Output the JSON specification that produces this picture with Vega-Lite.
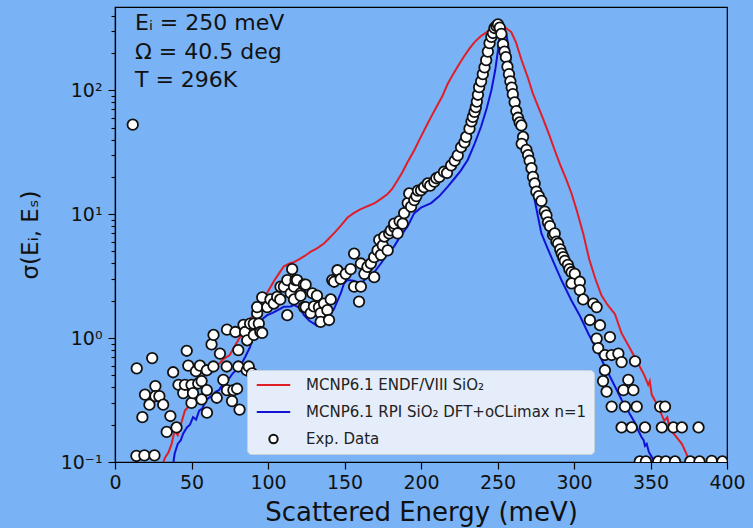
{
  "$schema": "https://vega.github.io/schema/vega-lite/v6.json",
  "width": 612,
  "height": 455,
  "autosize": {"type": "none"},
  "padding": {"left": 115, "top": 7, "right": 26, "bottom": 66},
  "background": "#79b3f5",
  "title": {
    "text": ["Eᵢ = 250 meV", "Ω = 40.5 deg", "T = 296K"],
    "anchor": "start", "frame": "group", "orient": "top",
    "offset": -85, "baseline": "top", "dx": 20,
    "fontSize": 22, "fontWeight": "normal", "lineHeight": 28.5,
    "font": "DejaVu Sans", "color": "#111111"
  },
  "config": {
    "font": "DejaVu Sans",
    "view": {"stroke": "black", "strokeWidth": 1.2},
    "legend": {
      "orient": "none",
      "legendX": 132,
      "legendY": 363,
      "fillColor": "#e4edf9",
      "strokeColor": "#c8d0da",
      "cornerRadius": 4,
      "padding": 7,
      "labelFont": "DejaVu Sans",
      "labelFontSize": 15,
      "labelColor": "#222222",
      "labelLimit": 500,
      "labelOffset": 25,
      "symbolSize": 70,
      "symbolOffset": 12,
      "symbolStrokeWidth": 2,
      "clipHeight": 16,
      "rowPadding": 11
    }
  },
  "datasets": {
    "lines": [
      {"E":31.5,"v":0.1,"series":"MCNP6.1 ENDF/VIII SiO₂"},{"E":33,"v":0.11,"series":"MCNP6.1 ENDF/VIII SiO₂"},{"E":35,"v":0.12,"series":"MCNP6.1 ENDF/VIII SiO₂"},{"E":37,"v":0.14,"series":"MCNP6.1 ENDF/VIII SiO₂"},{"E":39,"v":0.18,"series":"MCNP6.1 ENDF/VIII SiO₂"},{"E":41,"v":0.165,"series":"MCNP6.1 ENDF/VIII SiO₂"},{"E":42.5,"v":0.19,"series":"MCNP6.1 ENDF/VIII SiO₂"},{"E":45.7,"v":0.26,"series":"MCNP6.1 ENDF/VIII SiO₂"},{"E":48,"v":0.28,"series":"MCNP6.1 ENDF/VIII SiO₂"},{"E":51,"v":0.34,"series":"MCNP6.1 ENDF/VIII SiO₂"},{"E":54,"v":0.4,"series":"MCNP6.1 ENDF/VIII SiO₂"},{"E":57.7,"v":0.49,"series":"MCNP6.1 ENDF/VIII SiO₂"},{"E":61,"v":0.57,"series":"MCNP6.1 ENDF/VIII SiO₂"},{"E":63,"v":0.62,"series":"MCNP6.1 ENDF/VIII SiO₂"},{"E":65,"v":0.58,"series":"MCNP6.1 ENDF/VIII SiO₂"},{"E":68,"v":0.62,"series":"MCNP6.1 ENDF/VIII SiO₂"},{"E":71,"v":0.68,"series":"MCNP6.1 ENDF/VIII SiO₂"},{"E":75,"v":0.73,"series":"MCNP6.1 ENDF/VIII SiO₂"},{"E":78,"v":0.85,"series":"MCNP6.1 ENDF/VIII SiO₂"},{"E":81.7,"v":1.02,"series":"MCNP6.1 ENDF/VIII SiO₂"},{"E":85,"v":1.2,"series":"MCNP6.1 ENDF/VIII SiO₂"},{"E":88,"v":1.4,"series":"MCNP6.1 ENDF/VIII SiO₂"},{"E":92,"v":1.65,"series":"MCNP6.1 ENDF/VIII SiO₂"},{"E":95,"v":1.9,"series":"MCNP6.1 ENDF/VIII SiO₂"},{"E":98,"v":2.16,"series":"MCNP6.1 ENDF/VIII SiO₂"},{"E":101,"v":2.5,"series":"MCNP6.1 ENDF/VIII SiO₂"},{"E":104,"v":2.9,"series":"MCNP6.1 ENDF/VIII SiO₂"},{"E":107,"v":3.3,"series":"MCNP6.1 ENDF/VIII SiO₂"},{"E":110.4,"v":3.8,"series":"MCNP6.1 ENDF/VIII SiO₂"},{"E":114,"v":4.0,"series":"MCNP6.1 ENDF/VIII SiO₂"},{"E":117,"v":4.1,"series":"MCNP6.1 ENDF/VIII SiO₂"},{"E":120,"v":4.3,"series":"MCNP6.1 ENDF/VIII SiO₂"},{"E":124,"v":4.6,"series":"MCNP6.1 ENDF/VIII SiO₂"},{"E":128,"v":5.0,"series":"MCNP6.1 ENDF/VIII SiO₂"},{"E":132,"v":5.3,"series":"MCNP6.1 ENDF/VIII SiO₂"},{"E":136.6,"v":5.8,"series":"MCNP6.1 ENDF/VIII SiO₂"},{"E":140,"v":6.4,"series":"MCNP6.1 ENDF/VIII SiO₂"},{"E":144,"v":7.2,"series":"MCNP6.1 ENDF/VIII SiO₂"},{"E":148,"v":8.2,"series":"MCNP6.1 ENDF/VIII SiO₂"},{"E":152,"v":9.4,"series":"MCNP6.1 ENDF/VIII SiO₂"},{"E":156,"v":10.2,"series":"MCNP6.1 ENDF/VIII SiO₂"},{"E":160,"v":10.9,"series":"MCNP6.1 ENDF/VIII SiO₂"},{"E":165,"v":11.6,"series":"MCNP6.1 ENDF/VIII SiO₂"},{"E":169.4,"v":12.2,"series":"MCNP6.1 ENDF/VIII SiO₂"},{"E":173.8,"v":13.3,"series":"MCNP6.1 ENDF/VIII SiO₂"},{"E":178,"v":14.5,"series":"MCNP6.1 ENDF/VIII SiO₂"},{"E":181,"v":15.9,"series":"MCNP6.1 ENDF/VIII SiO₂"},{"E":184.7,"v":18.8,"series":"MCNP6.1 ENDF/VIII SiO₂"},{"E":188,"v":22,"series":"MCNP6.1 ENDF/VIII SiO₂"},{"E":191,"v":26,"series":"MCNP6.1 ENDF/VIII SiO₂"},{"E":195.6,"v":32.8,"series":"MCNP6.1 ENDF/VIII SiO₂"},{"E":199,"v":40,"series":"MCNP6.1 ENDF/VIII SiO₂"},{"E":203,"v":50,"series":"MCNP6.1 ENDF/VIII SiO₂"},{"E":206.6,"v":61,"series":"MCNP6.1 ENDF/VIII SiO₂"},{"E":210,"v":73,"series":"MCNP6.1 ENDF/VIII SiO₂"},{"E":214,"v":90,"series":"MCNP6.1 ENDF/VIII SiO₂"},{"E":217.5,"v":113,"series":"MCNP6.1 ENDF/VIII SiO₂"},{"E":221,"v":135,"series":"MCNP6.1 ENDF/VIII SiO₂"},{"E":225,"v":163,"series":"MCNP6.1 ENDF/VIII SiO₂"},{"E":228.4,"v":190,"series":"MCNP6.1 ENDF/VIII SiO₂"},{"E":232,"v":220,"series":"MCNP6.1 ENDF/VIII SiO₂"},{"E":235,"v":245,"series":"MCNP6.1 ENDF/VIII SiO₂"},{"E":239,"v":273,"series":"MCNP6.1 ENDF/VIII SiO₂"},{"E":243,"v":295,"series":"MCNP6.1 ENDF/VIII SiO₂"},{"E":246,"v":310,"series":"MCNP6.1 ENDF/VIII SiO₂"},{"E":248,"v":318,"series":"MCNP6.1 ENDF/VIII SiO₂"},{"E":250.3,"v":328,"series":"MCNP6.1 ENDF/VIII SiO₂"},{"E":252,"v":335,"series":"MCNP6.1 ENDF/VIII SiO₂"},{"E":255,"v":320,"series":"MCNP6.1 ENDF/VIII SiO₂"},{"E":257,"v":308,"series":"MCNP6.1 ENDF/VIII SiO₂"},{"E":259,"v":295,"series":"MCNP6.1 ENDF/VIII SiO₂"},{"E":262,"v":245,"series":"MCNP6.1 ENDF/VIII SiO₂"},{"E":265.6,"v":177,"series":"MCNP6.1 ENDF/VIII SiO₂"},{"E":270,"v":125,"series":"MCNP6.1 ENDF/VIII SiO₂"},{"E":273,"v":95,"series":"MCNP6.1 ENDF/VIII SiO₂"},{"E":276.5,"v":74,"series":"MCNP6.1 ENDF/VIII SiO₂"},{"E":280,"v":58,"series":"MCNP6.1 ENDF/VIII SiO₂"},{"E":284,"v":43,"series":"MCNP6.1 ENDF/VIII SiO₂"},{"E":287.4,"v":32.8,"series":"MCNP6.1 ENDF/VIII SiO₂"},{"E":291,"v":25,"series":"MCNP6.1 ENDF/VIII SiO₂"},{"E":295,"v":19,"series":"MCNP6.1 ENDF/VIII SiO₂"},{"E":298.4,"v":14.7,"series":"MCNP6.1 ENDF/VIII SiO₂"},{"E":302,"v":10.5,"series":"MCNP6.1 ENDF/VIII SiO₂"},{"E":306,"v":7.0,"series":"MCNP6.1 ENDF/VIII SiO₂"},{"E":310,"v":4.3,"series":"MCNP6.1 ENDF/VIII SiO₂"},{"E":314,"v":3.0,"series":"MCNP6.1 ENDF/VIII SiO₂"},{"E":318,"v":2.2,"series":"MCNP6.1 ENDF/VIII SiO₂"},{"E":322,"v":1.85,"series":"MCNP6.1 ENDF/VIII SiO₂"},{"E":326.8,"v":1.56,"series":"MCNP6.1 ENDF/VIII SiO₂"},{"E":331,"v":1.1,"series":"MCNP6.1 ENDF/VIII SiO₂"},{"E":336,"v":0.85,"series":"MCNP6.1 ENDF/VIII SiO₂"},{"E":342,"v":0.62,"series":"MCNP6.1 ENDF/VIII SiO₂"},{"E":346,"v":0.5,"series":"MCNP6.1 ENDF/VIII SiO₂"},{"E":348.5,"v":0.42,"series":"MCNP6.1 ENDF/VIII SiO₂"},{"E":349.5,"v":0.45,"series":"MCNP6.1 ENDF/VIII SiO₂"},{"E":350.8,"v":0.35,"series":"MCNP6.1 ENDF/VIII SiO₂"},{"E":355,"v":0.28,"series":"MCNP6.1 ENDF/VIII SiO₂"},{"E":359,"v":0.215,"series":"MCNP6.1 ENDF/VIII SiO₂"},{"E":361,"v":0.23,"series":"MCNP6.1 ENDF/VIII SiO₂"},{"E":362,"v":0.2,"series":"MCNP6.1 ENDF/VIII SiO₂"},{"E":365,"v":0.17,"series":"MCNP6.1 ENDF/VIII SiO₂"},{"E":370.5,"v":0.14,"series":"MCNP6.1 ENDF/VIII SiO₂"},{"E":373,"v":0.12,"series":"MCNP6.1 ENDF/VIII SiO₂"},{"E":375.7,"v":0.1,"series":"MCNP6.1 ENDF/VIII SiO₂"},{"E":377,"v":0.09,"series":"MCNP6.1 ENDF/VIII SiO₂"},
      {"E":38.2,"v":0.1,"series":"MCNP6.1 RPI SiO₂ DFT+oCLimax n=1"},{"E":39,"v":0.117,"series":"MCNP6.1 RPI SiO₂ DFT+oCLimax n=1"},{"E":41,"v":0.14,"series":"MCNP6.1 RPI SiO₂ DFT+oCLimax n=1"},{"E":43,"v":0.15,"series":"MCNP6.1 RPI SiO₂ DFT+oCLimax n=1"},{"E":44.6,"v":0.17,"series":"MCNP6.1 RPI SiO₂ DFT+oCLimax n=1"},{"E":47,"v":0.19,"series":"MCNP6.1 RPI SiO₂ DFT+oCLimax n=1"},{"E":49,"v":0.2,"series":"MCNP6.1 RPI SiO₂ DFT+oCLimax n=1"},{"E":51,"v":0.23,"series":"MCNP6.1 RPI SiO₂ DFT+oCLimax n=1"},{"E":53,"v":0.22,"series":"MCNP6.1 RPI SiO₂ DFT+oCLimax n=1"},{"E":55,"v":0.26,"series":"MCNP6.1 RPI SiO₂ DFT+oCLimax n=1"},{"E":57,"v":0.27,"series":"MCNP6.1 RPI SiO₂ DFT+oCLimax n=1"},{"E":60,"v":0.32,"series":"MCNP6.1 RPI SiO₂ DFT+oCLimax n=1"},{"E":63,"v":0.34,"series":"MCNP6.1 RPI SiO₂ DFT+oCLimax n=1"},{"E":66,"v":0.37,"series":"MCNP6.1 RPI SiO₂ DFT+oCLimax n=1"},{"E":68,"v":0.38,"series":"MCNP6.1 RPI SiO₂ DFT+oCLimax n=1"},{"E":70.8,"v":0.43,"series":"MCNP6.1 RPI SiO₂ DFT+oCLimax n=1"},{"E":74,"v":0.46,"series":"MCNP6.1 RPI SiO₂ DFT+oCLimax n=1"},{"E":77,"v":0.52,"series":"MCNP6.1 RPI SiO₂ DFT+oCLimax n=1"},{"E":81.7,"v":0.59,"series":"MCNP6.1 RPI SiO₂ DFT+oCLimax n=1"},{"E":85,"v":0.7,"series":"MCNP6.1 RPI SiO₂ DFT+oCLimax n=1"},{"E":88.3,"v":0.85,"series":"MCNP6.1 RPI SiO₂ DFT+oCLimax n=1"},{"E":90.7,"v":1.09,"series":"MCNP6.1 RPI SiO₂ DFT+oCLimax n=1"},{"E":94,"v":1.3,"series":"MCNP6.1 RPI SiO₂ DFT+oCLimax n=1"},{"E":97,"v":1.45,"series":"MCNP6.1 RPI SiO₂ DFT+oCLimax n=1"},{"E":99.5,"v":1.53,"series":"MCNP6.1 RPI SiO₂ DFT+oCLimax n=1"},{"E":103,"v":1.6,"series":"MCNP6.1 RPI SiO₂ DFT+oCLimax n=1"},{"E":107,"v":1.7,"series":"MCNP6.1 RPI SiO₂ DFT+oCLimax n=1"},{"E":110.4,"v":1.79,"series":"MCNP6.1 RPI SiO₂ DFT+oCLimax n=1"},{"E":114.8,"v":1.8,"series":"MCNP6.1 RPI SiO₂ DFT+oCLimax n=1"},{"E":117,"v":1.85,"series":"MCNP6.1 RPI SiO₂ DFT+oCLimax n=1"},{"E":121,"v":1.75,"series":"MCNP6.1 RPI SiO₂ DFT+oCLimax n=1"},{"E":123.5,"v":1.53,"series":"MCNP6.1 RPI SiO₂ DFT+oCLimax n=1"},{"E":127,"v":1.38,"series":"MCNP6.1 RPI SiO₂ DFT+oCLimax n=1"},{"E":130,"v":1.31,"series":"MCNP6.1 RPI SiO₂ DFT+oCLimax n=1"},{"E":132,"v":1.26,"series":"MCNP6.1 RPI SiO₂ DFT+oCLimax n=1"},{"E":134.4,"v":1.27,"series":"MCNP6.1 RPI SiO₂ DFT+oCLimax n=1"},{"E":136,"v":1.3,"series":"MCNP6.1 RPI SiO₂ DFT+oCLimax n=1"},{"E":138.8,"v":1.4,"series":"MCNP6.1 RPI SiO₂ DFT+oCLimax n=1"},{"E":141,"v":1.6,"series":"MCNP6.1 RPI SiO₂ DFT+oCLimax n=1"},{"E":143,"v":1.7,"series":"MCNP6.1 RPI SiO₂ DFT+oCLimax n=1"},{"E":147.5,"v":2.29,"series":"MCNP6.1 RPI SiO₂ DFT+oCLimax n=1"},{"E":149.7,"v":2.76,"series":"MCNP6.1 RPI SiO₂ DFT+oCLimax n=1"},{"E":152,"v":2.94,"series":"MCNP6.1 RPI SiO₂ DFT+oCLimax n=1"},{"E":156,"v":2.9,"series":"MCNP6.1 RPI SiO₂ DFT+oCLimax n=1"},{"E":160.7,"v":2.76,"series":"MCNP6.1 RPI SiO₂ DFT+oCLimax n=1"},{"E":165,"v":3.1,"series":"MCNP6.1 RPI SiO₂ DFT+oCLimax n=1"},{"E":169.4,"v":3.4,"series":"MCNP6.1 RPI SiO₂ DFT+oCLimax n=1"},{"E":173.8,"v":4.0,"series":"MCNP6.1 RPI SiO₂ DFT+oCLimax n=1"},{"E":178,"v":4.8,"series":"MCNP6.1 RPI SiO₂ DFT+oCLimax n=1"},{"E":182.5,"v":5.5,"series":"MCNP6.1 RPI SiO₂ DFT+oCLimax n=1"},{"E":186,"v":6.5,"series":"MCNP6.1 RPI SiO₂ DFT+oCLimax n=1"},{"E":191.3,"v":8.0,"series":"MCNP6.1 RPI SiO₂ DFT+oCLimax n=1"},{"E":195.6,"v":10.2,"series":"MCNP6.1 RPI SiO₂ DFT+oCLimax n=1"},{"E":200,"v":11.3,"series":"MCNP6.1 RPI SiO₂ DFT+oCLimax n=1"},{"E":206.6,"v":12.3,"series":"MCNP6.1 RPI SiO₂ DFT+oCLimax n=1"},{"E":212,"v":14,"series":"MCNP6.1 RPI SiO₂ DFT+oCLimax n=1"},{"E":217.5,"v":16.7,"series":"MCNP6.1 RPI SiO₂ DFT+oCLimax n=1"},{"E":222,"v":19.5,"series":"MCNP6.1 RPI SiO₂ DFT+oCLimax n=1"},{"E":226,"v":22.5,"series":"MCNP6.1 RPI SiO₂ DFT+oCLimax n=1"},{"E":230.6,"v":27.5,"series":"MCNP6.1 RPI SiO₂ DFT+oCLimax n=1"},{"E":235,"v":37,"series":"MCNP6.1 RPI SiO₂ DFT+oCLimax n=1"},{"E":239.3,"v":51,"series":"MCNP6.1 RPI SiO₂ DFT+oCLimax n=1"},{"E":243,"v":72,"series":"MCNP6.1 RPI SiO₂ DFT+oCLimax n=1"},{"E":246,"v":100,"series":"MCNP6.1 RPI SiO₂ DFT+oCLimax n=1"},{"E":248.5,"v":145,"series":"MCNP6.1 RPI SiO₂ DFT+oCLimax n=1"},{"E":250.3,"v":210,"series":"MCNP6.1 RPI SiO₂ DFT+oCLimax n=1"},{"E":251.5,"v":270,"series":"MCNP6.1 RPI SiO₂ DFT+oCLimax n=1"},{"E":252.5,"v":328,"series":"MCNP6.1 RPI SiO₂ DFT+oCLimax n=1"},{"E":254,"v":315,"series":"MCNP6.1 RPI SiO₂ DFT+oCLimax n=1"},{"E":255.7,"v":290,"series":"MCNP6.1 RPI SiO₂ DFT+oCLimax n=1"},{"E":257.5,"v":210,"series":"MCNP6.1 RPI SiO₂ DFT+oCLimax n=1"},{"E":259,"v":155,"series":"MCNP6.1 RPI SiO₂ DFT+oCLimax n=1"},{"E":261,"v":115,"series":"MCNP6.1 RPI SiO₂ DFT+oCLimax n=1"},{"E":263.4,"v":83,"series":"MCNP6.1 RPI SiO₂ DFT+oCLimax n=1"},{"E":265.5,"v":52,"series":"MCNP6.1 RPI SiO₂ DFT+oCLimax n=1"},{"E":267.7,"v":32.8,"series":"MCNP6.1 RPI SiO₂ DFT+oCLimax n=1"},{"E":270,"v":23,"series":"MCNP6.1 RPI SiO₂ DFT+oCLimax n=1"},{"E":272,"v":17,"series":"MCNP6.1 RPI SiO₂ DFT+oCLimax n=1"},{"E":274.3,"v":13,"series":"MCNP6.1 RPI SiO₂ DFT+oCLimax n=1"},{"E":276.5,"v":9.5,"series":"MCNP6.1 RPI SiO₂ DFT+oCLimax n=1"},{"E":278.7,"v":7,"series":"MCNP6.1 RPI SiO₂ DFT+oCLimax n=1"},{"E":283,"v":5.2,"series":"MCNP6.1 RPI SiO₂ DFT+oCLimax n=1"},{"E":287.4,"v":3.9,"series":"MCNP6.1 RPI SiO₂ DFT+oCLimax n=1"},{"E":292,"v":2.9,"series":"MCNP6.1 RPI SiO₂ DFT+oCLimax n=1"},{"E":298.4,"v":2.0,"series":"MCNP6.1 RPI SiO₂ DFT+oCLimax n=1"},{"E":304,"v":1.5,"series":"MCNP6.1 RPI SiO₂ DFT+oCLimax n=1"},{"E":309.3,"v":1.09,"series":"MCNP6.1 RPI SiO₂ DFT+oCLimax n=1"},{"E":315,"v":0.8,"series":"MCNP6.1 RPI SiO₂ DFT+oCLimax n=1"},{"E":320.2,"v":0.59,"series":"MCNP6.1 RPI SiO₂ DFT+oCLimax n=1"},{"E":325,"v":0.45,"series":"MCNP6.1 RPI SiO₂ DFT+oCLimax n=1"},{"E":331,"v":0.32,"series":"MCNP6.1 RPI SiO₂ DFT+oCLimax n=1"},{"E":336,"v":0.25,"series":"MCNP6.1 RPI SiO₂ DFT+oCLimax n=1"},{"E":339.5,"v":0.21,"series":"MCNP6.1 RPI SiO₂ DFT+oCLimax n=1"},{"E":342,"v":0.18,"series":"MCNP6.1 RPI SiO₂ DFT+oCLimax n=1"},{"E":344,"v":0.16,"series":"MCNP6.1 RPI SiO₂ DFT+oCLimax n=1"},{"E":345.5,"v":0.15,"series":"MCNP6.1 RPI SiO₂ DFT+oCLimax n=1"},{"E":346.4,"v":0.135,"series":"MCNP6.1 RPI SiO₂ DFT+oCLimax n=1"},{"E":347.5,"v":0.14,"series":"MCNP6.1 RPI SiO₂ DFT+oCLimax n=1"},{"E":349,"v":0.12,"series":"MCNP6.1 RPI SiO₂ DFT+oCLimax n=1"},{"E":350.8,"v":0.11,"series":"MCNP6.1 RPI SiO₂ DFT+oCLimax n=1"},{"E":353,"v":0.1,"series":"MCNP6.1 RPI SiO₂ DFT+oCLimax n=1"},{"E":354,"v":0.095,"series":"MCNP6.1 RPI SiO₂ DFT+oCLimax n=1"}
    ],
    "exp": [
      {"E":11.6,"v":52.8},{"E":14.2,"v":0.57},{"E":14,"v":0.112},{"E":19.2,"v":0.113},{"E":25.8,"v":0.113},{"E":17.9,"v":0.23},{"E":19.6,"v":0.35},{"E":22.5,"v":0.29},{"E":24.3,"v":0.69},{"E":26.4,"v":0.41},{"E":26.4,"v":0.34},{"E":29,"v":0.34},{"E":31.5,"v":0.29},{"E":33.8,"v":0.175},{"E":36.2,"v":0.235},{"E":38,"v":0.53},{"E":40.2,"v":0.19},{"E":41.5,"v":0.42},{"E":44.6,"v":0.36},{"E":45.7,"v":0.42},{"E":46.9,"v":0.79},{"E":47.9,"v":0.6},{"E":50,"v":0.42},{"E":50,"v":0.3},{"E":51,"v":0.36},{"E":52.9,"v":0.54},{"E":54.4,"v":0.43},{"E":55.5,"v":0.6},{"E":56.6,"v":0.45},{"E":56.6,"v":0.32},{"E":60,"v":0.55},{"E":60,"v":0.38},{"E":60.1,"v":0.25},{"E":63.1,"v":0.89},{"E":64.4,"v":1.06},{"E":64.3,"v":0.59},{"E":66.5,"v":0.33},{"E":68.6,"v":0.75},{"E":70.8,"v":0.46},{"E":73,"v":0.59},{"E":73.2,"v":1.17},{"E":73.2,"v":0.38},{"E":76.5,"v":0.31},{"E":77.4,"v":0.38},{"E":78.7,"v":1.12},{"E":79.8,"v":0.39},{"E":80.6,"v":0.8},{"E":80.6,"v":0.59},{"E":81.4,"v":0.265},{"E":84,"v":1.28},{"E":85,"v":1.12},{"E":86.1,"v":0.55},{"E":86.4,"v":0.96},{"E":87.4,"v":0.59},{"E":88.3,"v":1.31},{"E":89.6,"v":0.52},{"E":90.7,"v":1.06},{"E":90.7,"v":1.31},{"E":92.9,"v":1.59},{"E":92.9,"v":1.78},{"E":94,"v":1.31},{"E":95,"v":1.12},{"E":96.2,"v":2.13},{"E":96.2,"v":1.1},{"E":99.5,"v":1.78},{"E":101.6,"v":2.05},{"E":103.8,"v":1.9},{"E":106,"v":2.15},{"E":108,"v":2.05},{"E":108.2,"v":2.6},{"E":110.4,"v":2.6},{"E":112.6,"v":2.94},{"E":112.6,"v":1.53},{"E":114.8,"v":2.3},{"E":115.8,"v":3.6},{"E":117,"v":2.6},{"E":117,"v":2.05},{"E":118,"v":2.94},{"E":119,"v":2.94},{"E":121.3,"v":2.3},{"E":121.3,"v":2.2},{"E":123.5,"v":2.7},{"E":123.5,"v":1.78},{"E":124.6,"v":1.78},{"E":124.6,"v":2.7},{"E":127.9,"v":1.59},{"E":129,"v":2.3},{"E":130,"v":1.8},{"E":132,"v":2.2},{"E":133.3,"v":1.78},{"E":134.4,"v":1.59},{"E":134.4,"v":1.35},{"E":136.6,"v":1.9},{"E":138.8,"v":1.68},{"E":139.9,"v":1.4},{"E":141,"v":2.05},{"E":142,"v":2.94},{"E":143.2,"v":2.85},{"E":145.4,"v":3.53},{"E":147.5,"v":3.0},{"E":150.8,"v":3.3},{"E":154,"v":3.6},{"E":156.3,"v":4.8},{"E":156.3,"v":2.6},{"E":159.5,"v":1.97},{"E":160.7,"v":4.0},{"E":160.7,"v":2.6},{"E":163,"v":3.3},{"E":165,"v":3.76},{"E":167.2,"v":4.0},{"E":169.4,"v":4.5},{"E":169.4,"v":3.1},{"E":171.6,"v":5.1},{"E":172.7,"v":6.2},{"E":173.8,"v":4.7},{"E":175,"v":5.6},{"E":176,"v":6.6},{"E":178.2,"v":5.1},{"E":179.2,"v":7.0},{"E":180.3,"v":7.4},{"E":182.5,"v":7.9},{"E":182.5,"v":8.4},{"E":184.7,"v":7.0},{"E":186,"v":8.8},{"E":188,"v":8.4},{"E":189,"v":10.2},{"E":191.3,"v":12.3},{"E":192.3,"v":14.7},{"E":193.5,"v":11.5},{"E":195.6,"v":13},{"E":197,"v":14},{"E":198,"v":15.5},{"E":200,"v":15.6},{"E":202,"v":16.5},{"E":204.4,"v":17.7},{"E":206,"v":17},{"E":208.7,"v":18.3},{"E":210,"v":19.5},{"E":212,"v":20},{"E":215,"v":22},{"E":217,"v":21.5},{"E":219.7,"v":24.8},{"E":222,"v":27},{"E":224,"v":29.8},{"E":226.2,"v":34.7},{"E":228.4,"v":38},{"E":229.5,"v":42},{"E":231.7,"v":49},{"E":233,"v":56},{"E":233.9,"v":61},{"E":235,"v":67},{"E":235.8,"v":73},{"E":236.5,"v":81},{"E":237.2,"v":92},{"E":238,"v":106},{"E":239.3,"v":118},{"E":240.4,"v":135},{"E":241.5,"v":153},{"E":242.6,"v":175},{"E":243.7,"v":205},{"E":244.8,"v":240},{"E":246,"v":270},{"E":247,"v":290},{"E":248,"v":318},{"E":249.2,"v":330},{"E":250.3,"v":340},{"E":251.5,"v":320},{"E":252.5,"v":285},{"E":253.6,"v":235},{"E":254.6,"v":205},{"E":255.5,"v":185},{"E":256.5,"v":155},{"E":257.5,"v":135},{"E":258.4,"v":118},{"E":259.3,"v":105},{"E":260,"v":93},{"E":261.2,"v":80},{"E":262.3,"v":68},{"E":263.4,"v":60},{"E":264.5,"v":55},{"E":265.6,"v":52},{"E":266.7,"v":42},{"E":265.8,"v":37},{"E":268.9,"v":33},{"E":270,"v":30},{"E":271,"v":27},{"E":272.2,"v":23.5},{"E":273.2,"v":20},{"E":274.3,"v":17.7},{"E":275.4,"v":15.2},{"E":277,"v":14},{"E":278.7,"v":12.8},{"E":280.9,"v":10.5},{"E":282,"v":9.8},{"E":283,"v":8.6},{"E":284.3,"v":8.0},{"E":286.3,"v":6.8},{"E":287.4,"v":7.0},{"E":288.5,"v":6.0},{"E":289.6,"v":5.8},{"E":291,"v":5.2},{"E":292,"v":4.8},{"E":293,"v":4.5},{"E":294,"v":4.2},{"E":296,"v":3.9},{"E":297,"v":3.6},{"E":298.4,"v":3.4},{"E":300.5,"v":3.3},{"E":298.4,"v":2.76},{"E":303.8,"v":2.85},{"E":303.8,"v":2.44},{"E":306,"v":2.05},{"E":310.4,"v":1.4},{"E":312.6,"v":1.9},{"E":314.8,"v":1.78},{"E":317,"v":1.27},{"E":314.8,"v":0.99},{"E":323.5,"v":1.02},{"E":315.8,"v":0.83},{"E":320.2,"v":0.73},{"E":324.6,"v":0.73},{"E":329,"v":0.75},{"E":331.1,"v":0.64},{"E":339.9,"v":0.65},{"E":320.2,"v":0.55},{"E":319,"v":0.45},{"E":321.3,"v":0.37},{"E":335.5,"v":0.46},{"E":332.3,"v":0.38},{"E":338.8,"v":0.38},{"E":324.6,"v":0.28},{"E":333.3,"v":0.28},{"E":341,"v":0.28},{"E":356.3,"v":0.28},{"E":359.5,"v":0.28},{"E":331.1,"v":0.19},{"E":337.7,"v":0.19},{"E":346.4,"v":0.19},{"E":357.4,"v":0.19},{"E":365,"v":0.19},{"E":370.5,"v":0.19},{"E":381.4,"v":0.19},{"E":343,"v":0.101},{"E":347,"v":0.101},{"E":355,"v":0.101},{"E":360,"v":0.101},{"E":366,"v":0.101},{"E":376,"v":0.101},{"E":382,"v":0.101},{"E":390,"v":0.102},{"E":397,"v":0.101}
    ]
  },
  "encoding": {
    "x": {
      "field": "E", "type": "quantitative",
      "scale": {"domain": [0, 400], "nice": false, "zero": false},
      "axis": {
        "title": "Scattered Energy (meV)",
        "values": [0, 50, 100, 150, 200, 250, 300, 350, 400],
        "grid": false, "domainColor": "black", "domainWidth": 1.2,
        "tickColor": "black", "tickSize": 7, "tickWidth": 1.2,
        "labelFontSize": 19, "labelColor": "#111111", "labelPadding": 4, "labelFlush": false,
        "titleFontSize": 26, "titleFontWeight": "normal", "titleColor": "#111111", "titlePadding": 7
      }
    },
    "y": {
      "field": "v", "type": "quantitative",
      "scale": {"type": "log", "domain": [0.1, 470], "nice": false},
      "axis": {
        "title": "σ(Eᵢ, Eₛ)",
        "values": [0.1,0.2,0.3,0.4,0.5,0.6,0.7,0.8,0.9,1,2,3,4,5,6,7,8,9,10,20,30,40,50,60,70,80,90,100,200,300,400],
        "labelExpr": "datum.value == 0.1 ? '10⁻¹' : datum.value == 1 ? '10⁰' : datum.value == 10 ? '10¹' : datum.value == 100 ? '10²' : ''",
        "grid": false, "domainColor": "black", "domainWidth": 1.2,
        "tickColor": "black", "tickWidth": 1.1,
        "tickSize": {"condition": {"test": "datum.value == 0.1 || datum.value == 1 || datum.value == 10 || datum.value == 100", "value": 7}, "value": 4},
        "labelFontSize": 19, "labelColor": "#111111", "labelPadding": 6, "labelFlush": false,
        "titleFontSize": 23, "titleFontWeight": "normal", "titleColor": "#111111", "titlePadding": 18
      }
    }
  },
  "layer": [
    {
      "data": {"name": "lines"},
      "mark": {"type": "line", "strokeWidth": 2, "clip": true},
      "encoding": {
        "stroke": {
          "field": "series", "type": "nominal", "title": null,
          "scale": {"domain": ["MCNP6.1 ENDF/VIII SiO₂", "MCNP6.1 RPI SiO₂ DFT+oCLimax n=1", "Exp. Data"], "range": ["#e11d25", "#1212d4", "#111111"]}
        }
      }
    },
    {
      "data": {"name": "exp"},
      "transform": [{"calculate": "'Exp. Data'", "as": "series"}],
      "mark": {"type": "point", "filled": true, "opacity": 1, "size": 110, "strokeWidth": 1.8, "clip": true},
      "encoding": {
        "stroke": {
          "field": "series", "type": "nominal", "title": null,
          "scale": {"domain": ["MCNP6.1 ENDF/VIII SiO₂", "MCNP6.1 RPI SiO₂ DFT+oCLimax n=1", "Exp. Data"], "range": ["#e11d25", "#1212d4", "#111111"]}
        },
        "fill": {
          "field": "series", "type": "nominal", "title": null,
          "scale": {"domain": ["MCNP6.1 ENDF/VIII SiO₂", "MCNP6.1 RPI SiO₂ DFT+oCLimax n=1", "Exp. Data"], "range": ["#ffffff", "#ffffff", "#ffffff"]}
        },
        "shape": {
          "field": "series", "type": "nominal", "title": null,
          "scale": {"domain": ["MCNP6.1 ENDF/VIII SiO₂", "MCNP6.1 RPI SiO₂ DFT+oCLimax n=1", "Exp. Data"], "range": ["M-4,0H4", "M-4,0H4", "circle"]}
        }
      }
    }
  ]
}
